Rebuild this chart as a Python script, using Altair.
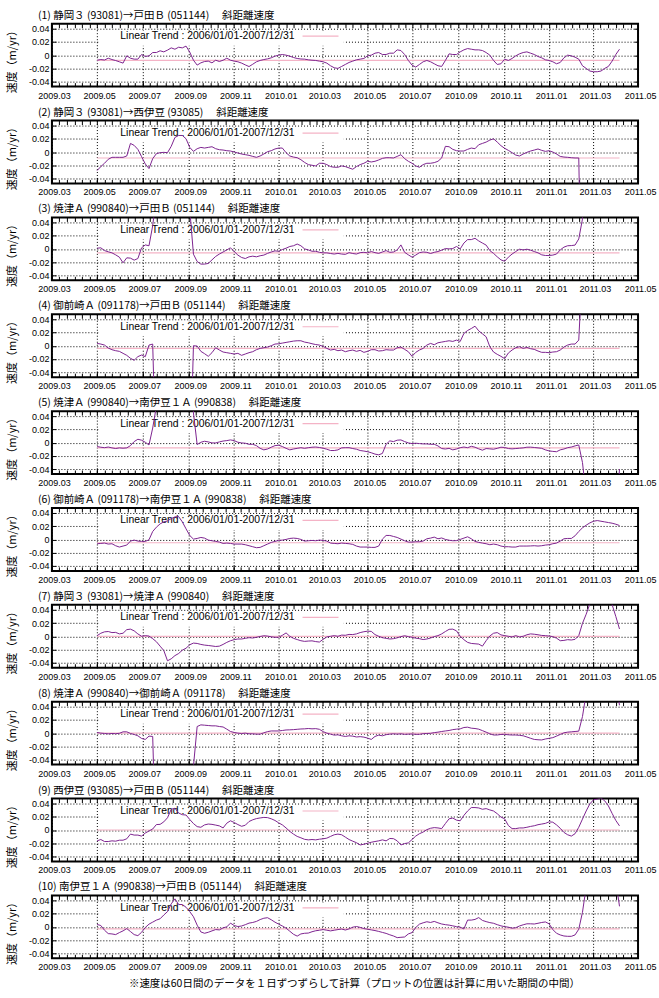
import altair as alt
import pandas as pd

# ---- data -----------------------------------------------------------------
START = pd.Timestamp("2009-05-01")
# sample days counted from START (5-day steps up to 2011-04-05)
DAY_OFFSETS = list(range(0, 706, 5))

TITLES = [
    "(1)  静岡３ (93081)→戸田Ｂ (051144)　 斜距離速度",
    "(2)  静岡３ (93081)→西伊豆 (93085)　 斜距離速度",
    "(3)  焼津Ａ (990840)→戸田Ｂ (051144)　 斜距離速度",
    "(4)  御前崎Ａ (091178)→戸田Ｂ (051144)　 斜距離速度",
    "(5)  焼津Ａ (990840)→南伊豆１Ａ (990838)　 斜距離速度",
    "(6)  御前崎Ａ (091178)→南伊豆１Ａ (990838)　 斜距離速度",
    "(7)  静岡３ (93081)→焼津Ａ (990840)　 斜距離速度",
    "(8)  焼津Ａ (990840)→御前崎Ａ (091178)　 斜距離速度",
    "(9)  西伊豆 (93085)→戸田Ｂ (051144)　 斜距離速度",
    "(10)  南伊豆１Ａ (990838)→戸田Ｂ (051144)　 斜距離速度",
]

# linear trend 2006/01/01-2007/12/31 (m/yr)
TRENDS = [-0.008, -0.009, -0.006, -0.004, -0.008, -0.005, 0.000, 0.000, 0.000, -0.003]

# baseline-length rates (m/yr); values far outside +-0.0475 run off the panel
V1 = [-0.0076, -0.0066, -0.0073, -0.0046, -0.0066, -0.0081, -0.0100, -0.0120, -0.0010, -0.0046,
      -0.0060, -0.0060, 0.0010, -0.0020, -0.0010, 0.0040, 0.0040, 0.0066, 0.0050, 0.0076,
      0.0110, 0.0090, 0.0120, 0.0110, 0.0137, 0.0046, -0.0076, -0.0150, -0.0116, -0.0096,
      -0.0090, -0.0116, -0.0076, -0.0096, -0.0076, -0.0046, -0.0076, -0.0090, -0.0100, -0.0120,
      -0.0147, -0.0172, -0.0137, -0.0100, -0.0080, -0.0066, -0.0056, -0.0040, -0.0015, 0.0000,
      0.0010, 0.0000, -0.0015, -0.0035, -0.0050, -0.0058, -0.0060, -0.0070, -0.0076, -0.0080,
      -0.0090, -0.0100, -0.0120, -0.0160, -0.0190, -0.0200, -0.0170, -0.0140, -0.0110, -0.0090,
      -0.0070, -0.0060, -0.0050, -0.0010, 0.0000, 0.0030, 0.0040, 0.0010, 0.0010, 0.0030,
      0.0030, 0.0080, 0.0070, 0.0010, -0.0080, -0.0150, -0.0180, -0.0140, -0.0100, -0.0080,
      -0.0100, -0.0130, -0.0160, -0.0170, -0.0080, 0.0020, 0.0010, 0.0010, 0.0050, 0.0080,
      0.0100, 0.0090, 0.0080, 0.0080, 0.0070, 0.0040, 0.0000, -0.0080, -0.0140, -0.0130,
      -0.0060, -0.0080, -0.0050, -0.0010, 0.0020, 0.0040, 0.0050, 0.0030, 0.0010, -0.0020,
      -0.0040, -0.0070, -0.0080, -0.0100, -0.0130, -0.0110, -0.0040, 0.0000, -0.0010, -0.0030,
      -0.0060, -0.0160, -0.0200, -0.0240, -0.0250, -0.0250, -0.0240, -0.0200, -0.0170, -0.0090,
      0.0010, 0.0090]
V2 = [-0.0280, -0.0220, -0.0170, -0.0110, -0.0080, -0.0080, -0.0080, -0.0080, -0.0060, 0.0130,
      0.0100, 0.0040, -0.0070, -0.0180, -0.0250, -0.0100, -0.0025, -0.0010, -0.0005, -0.0010,
      0.0086, 0.0220, 0.0250, 0.0250, 0.0200, 0.0070, 0.0010, 0.0050, 0.0070, 0.0060,
      0.0070, 0.0080, 0.0050, 0.0035, 0.0030, 0.0020, 0.0015, 0.0000, -0.0015, -0.0030,
      -0.0040, -0.0050, -0.0066, -0.0080, -0.0060, -0.0030, 0.0005, 0.0020, 0.0046, 0.0060,
      0.0060, -0.0010, -0.0060, -0.0076, -0.0086, -0.0116, -0.0157, -0.0190, -0.0200, -0.0210,
      -0.0170, -0.0170, -0.0190, -0.0220, -0.0230, -0.0230, -0.0210, -0.0220, -0.0240, -0.0260,
      -0.0220, -0.0190, -0.0170, -0.0140, -0.0150, -0.0140, -0.0120, -0.0096, -0.0086, -0.0086,
      -0.0090, -0.0066, -0.0040, -0.0100, -0.0140, -0.0170, -0.0210, -0.0230, -0.0190, -0.0170,
      -0.0170, -0.0160, -0.0140, -0.0090, 0.0086, 0.0080, 0.0040, 0.0020, 0.0015, 0.0015,
      0.0040, 0.0060, 0.0050, 0.0110, 0.0130, 0.0150, 0.0180, 0.0200, 0.0150, 0.0096,
      0.0056, 0.0025, -0.0010, -0.0046, -0.0060, -0.0030, -0.0005, 0.0015, 0.0030, 0.0046,
      0.0025, 0.0010, 0.0020, 0.0000, -0.0030, -0.0066, -0.0076, -0.0080, -0.0086, -0.0090,
      -0.0090, -0.3000, -0.3000, -0.3000, -0.3000, -0.3000, -0.3000, -0.3000, -0.3000, -0.3000,
      -0.3000, -0.3000]
V3 = [0.0010, 0.0016, -0.0026, -0.0044, -0.0060, -0.0090, -0.0125, -0.0210, -0.0135, -0.0140,
      -0.0170, -0.0146, 0.0016, 0.0060, 0.0047, 0.0350, 0.0800, 0.2000, 0.2000, 0.2000,
      0.2000, 0.2000, 0.2000, 0.2000, 0.2000, 0.0600, -0.0080, -0.0190, -0.0230, -0.0230,
      -0.0220, -0.0166, -0.0114, -0.0078, -0.0047, -0.0016, 0.0016, -0.0040, -0.0094, -0.0130,
      -0.0146, -0.0120, -0.0110, -0.0120, -0.0104, -0.0094, -0.0068, -0.0047, -0.0030, -0.0036,
      -0.0010, 0.0010, 0.0036, 0.0047, 0.0073, 0.0047, 0.0000, -0.0016, -0.0036, -0.0036,
      -0.0052, -0.0060, -0.0060, -0.0070, -0.0078, -0.0068, -0.0078, -0.0083, -0.0057, -0.0070,
      -0.0078, -0.0057, -0.0052, -0.0060, -0.0040, -0.0057, -0.0068, -0.0047, -0.0026, -0.0052,
      -0.0047, -0.0016, 0.0060, -0.0052, -0.0090, -0.0125, -0.0094, -0.0057, -0.0047, -0.0052,
      -0.0070, -0.0052, -0.0040, -0.0020, 0.0005, 0.0000, 0.0005, 0.0036, 0.0000, 0.0088,
      0.0140, 0.0140, 0.0160, 0.0120, 0.0088, 0.0057, -0.0026, -0.0068, -0.0120, -0.0166,
      -0.0187, -0.0125, -0.0078, -0.0040, -0.0005, -0.0016, -0.0005, -0.0020, -0.0040, -0.0060,
      -0.0090, -0.0100, -0.0100, -0.0094, -0.0078, -0.0016, 0.0026, 0.0047, 0.0050, 0.0057,
      0.0150, 0.0450, 0.2000, 0.2000, 0.2000, 0.2000, 0.2000, 0.2000, 0.2000, 0.2000,
      0.2000, 0.2000]
V4 = [0.0035, 0.0025, 0.0010, -0.0035, -0.0060, -0.0075, -0.0085, -0.0115, -0.0145, -0.0190,
      -0.0220, -0.0165, -0.0140, -0.0165, 0.0010, 0.0025, -0.2000, -0.2000, -0.2000, -0.2000,
      -0.2000, -0.2000, -0.2000, -0.2000, -0.2000, -0.2000, 0.0000, -0.0005, -0.0085, -0.0120,
      -0.0160, -0.0105, -0.0030, -0.0065, -0.0095, -0.0105, -0.0115, -0.0125, -0.0115, -0.0145,
      -0.0125, -0.0105, -0.0090, -0.0060, -0.0040, -0.0030, -0.0020, 0.0000, 0.0025, 0.0030,
      0.0040, 0.0050, 0.0060, 0.0070, 0.0075, 0.0075, 0.0055, 0.0045, 0.0030, 0.0018,
      0.0010, -0.0010, -0.0040, -0.0065, -0.0055, -0.0075, -0.0065, -0.0090, -0.0075, -0.0065,
      -0.0085, -0.0070, -0.0100, -0.0085, -0.0060, -0.0060, -0.0080, -0.0075, -0.0060, -0.0065,
      -0.0065, -0.0030, -0.0020, -0.0055, -0.0090, -0.0160, -0.0100, -0.0065, -0.0040, 0.0010,
      0.0035, 0.0015, 0.0045, 0.0055, 0.0065, 0.0075, 0.0065, 0.0085, 0.0065, 0.0185,
      0.0230, 0.0260, 0.0295, 0.0225, 0.0180, 0.0135, -0.0015, -0.0095, -0.0130, -0.0160,
      -0.0195, -0.0110, -0.0065, -0.0030, -0.0015, -0.0040, -0.0025, -0.0045, -0.0055, -0.0080,
      -0.0100, -0.0100, -0.0105, -0.0095, -0.0090, -0.0065, -0.0020, 0.0010, 0.0025, 0.0025,
      0.0085, 0.1200, 0.3000, 0.3000, 0.3000, 0.3000, 0.3000, 0.3000, 0.3000, 0.3000,
      0.3000, 0.3000]
V5 = [-0.0060, -0.0070, -0.0077, -0.0067, -0.0080, -0.0090, -0.0080, -0.0085, -0.0080, -0.0046,
      0.0015, 0.0050, 0.0036, 0.0005, -0.0036, 0.0220, 0.0550, 0.2000, 0.2000, 0.2000,
      0.2000, 0.2000, 0.2000, 0.2000, 0.2000, 0.2000, 0.0450, -0.0030, 0.0005, 0.0020,
      0.0010, -0.0005, -0.0005, 0.0010, 0.0023, 0.0030, 0.0040, 0.0030, 0.0005, -0.0005,
      -0.0010, -0.0026, -0.0026, -0.0046, -0.0087, -0.0110, -0.0097, -0.0070, -0.0046, -0.0040,
      -0.0060, -0.0087, -0.0110, -0.0097, -0.0087, -0.0077, -0.0087, -0.0077, -0.0070, -0.0067,
      -0.0074, -0.0085, -0.0100, -0.0120, -0.0120, -0.0110, -0.0080, -0.0077, -0.0077, -0.0090,
      -0.0100, -0.0120, -0.0128, -0.0138, -0.0154, -0.0174, -0.0185, -0.0164, -0.0026, 0.0026,
      0.0015, 0.0036, 0.0040, 0.0015, -0.0005, -0.0015, -0.0010, -0.0015, -0.0020, -0.0020,
      -0.0026, -0.0026, -0.0050, -0.0090, -0.0097, -0.0087, -0.0110, -0.0097, -0.0077, -0.0067,
      -0.0077, -0.0056, -0.0070, -0.0095, -0.0115, -0.0090, -0.0095, -0.0100, -0.0087, -0.0070,
      -0.0074, -0.0090, -0.0095, -0.0090, -0.0085, -0.0080, -0.0070, -0.0069, -0.0074, -0.0080,
      -0.0087, -0.0110, -0.0126, -0.0133, -0.0138, -0.0110, -0.0097, -0.0077, -0.0067, -0.0050,
      -0.0036, -0.0300, -0.0800, -0.2000, -0.2000, -0.2000, -0.2000, -0.2000, -0.2000, -0.2000,
      -0.1200, -0.0400]
V6 = [-0.0065, -0.0060, -0.0055, -0.0070, -0.0065, -0.0095, -0.0115, -0.0100, -0.0085, -0.0025,
      -0.0010, -0.0025, -0.0030, -0.0030, -0.0005, 0.0120, 0.0185, 0.0235, 0.0265, 0.0280,
      0.0315, 0.0340, 0.0345, 0.0265, 0.0160, 0.0060, 0.0005, 0.0015, 0.0030, 0.0020,
      -0.0010, -0.0020, -0.0030, -0.0040, -0.0060, -0.0055, -0.0060, -0.0070, -0.0070, -0.0070,
      -0.0080, -0.0095, -0.0110, -0.0125, -0.0120, -0.0095, -0.0070, -0.0045, -0.0030, -0.0015,
      -0.0010, 0.0000, 0.0015, 0.0020, 0.0015, 0.0000, -0.0025, -0.0020, -0.0015, -0.0020,
      -0.0010, -0.0015, -0.0025, -0.0055, -0.0060, -0.0065, -0.0055, -0.0060, -0.0065, -0.0075,
      -0.0100, -0.0115, -0.0115, -0.0115, -0.0120, -0.0120, -0.0100, 0.0005, 0.0060, 0.0060,
      0.0045, 0.0030, 0.0005, -0.0020, -0.0040, -0.0040, -0.0035, -0.0035, -0.0025, 0.0010,
      0.0020, 0.0035, 0.0010, 0.0022, 0.0000, -0.0012, -0.0020, -0.0018, 0.0000, 0.0020,
      0.0040, 0.0010, -0.0030, -0.0045, -0.0055, -0.0065, -0.0080, -0.0070, -0.0080, -0.0100,
      -0.0110, -0.0110, -0.0115, -0.0115, -0.0100, -0.0100, -0.0100, -0.0098, -0.0095, -0.0100,
      -0.0095, -0.0085, -0.0080, -0.0065, -0.0055, -0.0025, 0.0010, 0.0015, 0.0015, 0.0055,
      0.0120, 0.0175, 0.0215, 0.0250, 0.0275, 0.0285, 0.0275, 0.0265, 0.0255, 0.0245,
      0.0230, 0.0210]
V7 = [0.0010, 0.0046, 0.0067, 0.0072, 0.0056, 0.0059, 0.0036, 0.0046, 0.0100, 0.0108,
      0.0082, 0.0036, 0.0000, 0.0010, 0.0003, -0.0036, -0.0082, -0.0149, -0.0215, -0.0370,
      -0.0340, -0.0292, -0.0260, -0.0210, -0.0180, -0.0128, -0.0103, -0.0108, -0.0123, -0.0133,
      -0.0139, -0.0146, -0.0154, -0.0149, -0.0123, -0.0092, -0.0067, -0.0051, -0.0041, -0.0041,
      -0.0031, -0.0021, -0.0026, -0.0015, -0.0003, 0.0008, 0.0003, -0.0008, -0.0015, -0.0015,
      0.0015, 0.0051, 0.0000, -0.0031, -0.0049, -0.0067, -0.0077, -0.0072, -0.0069, -0.0080,
      -0.0087, -0.0046, -0.0010, 0.0000, 0.0010, 0.0000, 0.0018, 0.0015, 0.0028, 0.0026,
      0.0036, 0.0056, 0.0069, 0.0077, 0.0074, 0.0026, 0.0000, -0.0021, -0.0031, -0.0041,
      -0.0036, -0.0023, -0.0005, 0.0008, -0.0005, -0.0015, -0.0028, -0.0036, -0.0049, -0.0041,
      -0.0026, -0.0005, 0.0010, 0.0036, 0.0072, 0.0105, 0.0108, 0.0082, 0.0000, -0.0051,
      -0.0092, -0.0108, -0.0113, -0.0118, -0.0149, -0.0067, 0.0005, 0.0046, 0.0056, 0.0021,
      0.0010, 0.0000, -0.0010, 0.0010, -0.0010, 0.0000, 0.0023, 0.0036, 0.0031, 0.0023,
      0.0013, 0.0010, 0.0003, -0.0005, -0.0028, -0.0067, -0.0062, -0.0051, -0.0056, -0.0046,
      0.0010, 0.0195, 0.0333, 0.0490, 0.0800, 0.1000, 0.1000, 0.0900, 0.0700, 0.0480,
      0.0300, 0.0110]
V8 = [0.0010, 0.0000, -0.0005, -0.0010, -0.0005, -0.0008, -0.0003, 0.0020, 0.0020, -0.0005,
      -0.0020, -0.0040, -0.0080, -0.0095, -0.0045, -0.0050, -0.2000, -0.2000, -0.2000, -0.2000,
      -0.2000, -0.2000, -0.2000, -0.2000, -0.2000, -0.2000, -0.0500, 0.0100, 0.0125, 0.0120,
      0.0115, 0.0110, 0.0110, 0.0100, 0.0093, 0.0060, 0.0025, 0.0010, 0.0000, -0.0005,
      0.0000, -0.0010, -0.0010, -0.0015, -0.0015, 0.0005, 0.0023, 0.0033, 0.0033, 0.0033,
      0.0040, 0.0048, 0.0050, 0.0053, 0.0058, 0.0063, 0.0065, 0.0070, 0.0065, 0.0068,
      0.0058, 0.0023, 0.0000, -0.0015, -0.0030, -0.0025, -0.0040, -0.0050, -0.0040, -0.0045,
      -0.0058, -0.0053, -0.0060, -0.0075, -0.0095, -0.0050, -0.0030, -0.0040, -0.0023, -0.0015,
      -0.0010, -0.0015, -0.0010, -0.0018, -0.0015, -0.0013, -0.0018, -0.0018, -0.0008, -0.0005,
      -0.0003, 0.0008, 0.0015, 0.0025, 0.0033, 0.0040, 0.0053, 0.0060, 0.0065, 0.0085,
      0.0090, 0.0075, 0.0070, 0.0060, 0.0038, 0.0015, -0.0010, -0.0028, -0.0028, -0.0020,
      -0.0018, -0.0025, -0.0028, -0.0028, -0.0033, -0.0040, -0.0058, -0.0078, -0.0095, -0.0100,
      -0.0103, -0.0088, -0.0078, -0.0068, -0.0045, -0.0020, 0.0005, 0.0015, 0.0020, 0.0025,
      0.0030, 0.0250, 0.0600, 0.1500, 0.1500, 0.1500, 0.1500, 0.1500, 0.1500, 0.1500,
      0.0800, 0.0420]
V9 = [-0.0164, -0.0144, -0.0174, -0.0174, -0.0164, -0.0169, -0.0154, -0.0154, -0.0133, -0.0062,
      -0.0077, -0.0077, -0.0092, -0.0046, -0.0015, 0.0015, 0.0082, 0.0085, 0.0123, 0.0185,
      0.0313, 0.0328, 0.0256, 0.0231, 0.0226, 0.0159, 0.0097, 0.0051, 0.0041, 0.0077,
      0.0090, 0.0085, 0.0074, 0.0062, 0.0031, 0.0103, 0.0139, 0.0113, 0.0082, 0.0056,
      0.0072, 0.0128, 0.0154, 0.0172, 0.0182, 0.0190, 0.0187, 0.0169, 0.0144, 0.0108,
      0.0077, 0.0031, -0.0021, -0.0062, -0.0097, -0.0118, -0.0141, -0.0149, -0.0144, -0.0149,
      -0.0139, -0.0133, -0.0123, -0.0097, -0.0072, -0.0062, -0.0072, -0.0108, -0.0144, -0.0169,
      -0.0192, -0.0226, -0.0215, -0.0200, -0.0185, -0.0174, -0.0164, -0.0149, -0.0164, -0.0128,
      -0.0131, -0.0164, -0.0226, -0.0205, -0.0195, -0.0144, -0.0092, -0.0056, -0.0031, 0.0005,
      0.0026, 0.0036, 0.0031, 0.0021, 0.0097, 0.0169, 0.0180, 0.0149, 0.0139, 0.0221,
      0.0287, 0.0339, 0.0339, 0.0333, 0.0313, 0.0323, 0.0303, 0.0287, 0.0246, 0.0195,
      0.0169, 0.0067, 0.0021, 0.0021, 0.0031, 0.0031, 0.0041, 0.0054, 0.0064, 0.0080,
      0.0090, 0.0100, 0.0123, 0.0118, 0.0077, 0.0026, -0.0036, -0.0072, -0.0092, -0.0056,
      0.0041, 0.0164, 0.0287, 0.0395, 0.0457, 0.0467, 0.0482, 0.0441, 0.0364, 0.0251,
      0.0144, 0.0062]
V10 = [0.0036, 0.0020, -0.0051, -0.0102, -0.0107, -0.0117, -0.0087, -0.0061, -0.0026, -0.0071,
       -0.0117, -0.0133, -0.0082, -0.0010, 0.0041, 0.0071, 0.0102, 0.0122, 0.0179, 0.0230,
       0.0347, 0.0423, 0.0337, 0.0337, 0.0296, 0.0230, 0.0153, 0.0026, -0.0077, -0.0097,
       -0.0082, -0.0061, -0.0041, -0.0046, -0.0015, 0.0000, 0.0056, 0.0020, 0.0005, 0.0013,
       0.0033, 0.0056, 0.0066, 0.0082, 0.0110, 0.0130, 0.0138, 0.0107, 0.0071, 0.0041,
       0.0013, -0.0020, -0.0066, -0.0112, -0.0140, -0.0107, -0.0097, -0.0094, -0.0074, -0.0059,
       -0.0051, -0.0041, -0.0051, -0.0061, -0.0051, -0.0041, -0.0033, -0.0048, -0.0031, -0.0005,
       0.0005, -0.0008, -0.0026, -0.0036, -0.0046, -0.0056, -0.0069, -0.0084, -0.0099, -0.0120,
       -0.0138, -0.0163, -0.0158, -0.0153, -0.0107, -0.0087, -0.0010, 0.0041, 0.0061, 0.0077,
       0.0066, 0.0082, 0.0061, 0.0043, 0.0033, 0.0026, 0.0015, 0.0003, -0.0005, -0.0031,
       0.0102, 0.0102, 0.0112, 0.0140, 0.0097, 0.0079, 0.0064, 0.0054, 0.0033, 0.0015,
       0.0003, -0.0005, -0.0020, -0.0013, 0.0013, 0.0031, 0.0046, 0.0046, 0.0043, 0.0054,
       0.0066, 0.0074, 0.0046, -0.0041, -0.0097, -0.0122, -0.0138, -0.0143, -0.0143, -0.0122,
       -0.0036, 0.0219, 0.0600, 0.1500, 0.1500, 0.1500, 0.1500, 0.1500, 0.1500, 0.1500,
       0.0700, 0.0310]

SERIES = [V1, V2, V3, V4, V5, V6, V7, V8, V9, V10]
for _s in SERIES:
    if len(_s) != len(DAY_OFFSETS):
        raise ValueError("series length %d != %d" % (len(_s), len(DAY_OFFSETS)))

LEGEND_LABEL = "Linear Trend : 2006/01/01-2007/12/31"
FOOTNOTE = "※速度は60日間のデータを１日ずつずらして計算（プロットの位置は計算に用いた期間の中間）"
Y_TITLE = "速度（m/yr）"

# ---- styling --------------------------------------------------------------
PURPLE = "#7d2490"
PINK = "#f4b3c6"
JP_FONT = "Noto Sans CJK JP"
NUM_FONT = "Liberation Sans"
W, H = 587, 63
Y_DOMAIN = [-0.0475, 0.0475]
Y_TICKS = [-0.04, -0.02, 0, 0.02, 0.04]

X_DOMAIN = [alt.DateTime(year=2009, month=3, date=1), alt.DateTime(year=2011, month=5, date=1)]
MAJOR_MONTHS = [(2009, 3), (2009, 5), (2009, 7), (2009, 9), (2009, 11), (2010, 1), (2010, 3),
                (2010, 5), (2010, 7), (2010, 9), (2010, 11), (2011, 1), (2011, 3), (2011, 5)]
MAJOR_TICKS = [alt.DateTime(year=y, month=m, date=1) for y, m in MAJOR_MONTHS]
MINOR_TICKS = []
for yr in (2009, 2010, 2011):
    for mo in range(1, 13):
        if (yr, mo) < (2009, 3) or (yr, mo) > (2011, 4):
            continue
        for dd in (1, 11, 21):
            MINOR_TICKS.append(alt.DateTime(year=yr, month=mo, date=dd))
MINOR_TICKS.append(alt.DateTime(year=2011, month=5, date=1))

dates = [(START + pd.Timedelta(days=d)).strftime("%Y-%m-%dT00:00:00") for d in DAY_OFFSETS]

# white key box behind the legend (data coordinates)
BOX = pd.DataFrame({"x0": ["2009-05-03T00:00:00"], "x1": ["2010-03-30T00:00:00"],
                    "y0": [0.0143], "y1": [0.0369]})

x_scale = alt.Scale(domain=X_DOMAIN)
y_scale = alt.Scale(domain=Y_DOMAIN, nice=False, zero=False)

x_main_axis = alt.Axis(orient="bottom", values=MAJOR_TICKS, format="%Y.%m", formatType="time",
                       labelFont=NUM_FONT, labelFontSize=9, labelColor="black", labelPadding=4.5,
                       labelFlush=False, labelOverlap=False, labelOffset=2,
                       tickSize=6, offset=-6, tickColor="black", domain=False,
                       grid=True, gridDash=[1, 2], gridColor="black", gridOpacity=1, gridWidth=1,
                       title=None)
x_bottom_minor = alt.Axis(orient="bottom", values=MINOR_TICKS, labels=False, tickSize=4, offset=-4,
                          tickColor="black", domain=False, grid=False, title=None)
x_top_minor = alt.Axis(orient="top", values=MINOR_TICKS, labels=False, tickSize=4, offset=-4,
                       tickColor="black", domain=False, grid=False, title=None)
y_main_axis = alt.Axis(orient="left", values=Y_TICKS,
                       labelExpr="datum.value == 0 ? '0' : (datum.value < 0 ? '-' : '') + format(abs(datum.value), '.2f')",
                       labelFont=NUM_FONT, labelFontSize=9, labelColor="black", labelPadding=3,
                       tickSize=4, offset=-4, tickColor="black", domain=False,
                       grid=True, gridDash=[1, 2], gridColor="black", gridOpacity=1, gridWidth=1,
                       title=Y_TITLE, titleFont=JP_FONT, titleFontSize=11, titleFontWeight="normal",
                       titleColor="black", titleAngle=270, titleX=-43, titleY=35,
                       titleAlign="center", titleBaseline="middle")
y_right_axis = alt.Axis(orient="right", values=Y_TICKS, labels=False, tickSize=4, offset=-4,
                        tickColor="black", domain=False, grid=False, title=None)


def panel(k):
    df = pd.DataFrame({"date": dates, "v": SERIES[k]})
    trend_df = pd.DataFrame({"start": [dates[0]], "end": [dates[-1]], "v": [TRENDS[k]]})

    box = alt.Chart(BOX).mark_rect(color="white").encode(
        x=alt.X("x0:T", scale=x_scale, axis=x_top_minor),
        x2="x1:T",
        y=alt.Y("y0:Q", scale=y_scale, axis=None),
        y2="y1:Q",
    )
    trend = alt.Chart(trend_df).mark_rule(color=PINK, strokeWidth=1.2).encode(
        x=alt.X("start:T", scale=x_scale, axis=x_main_axis),
        x2="end:T",
        y=alt.Y("v:Q", scale=y_scale, axis=y_main_axis),
    )
    key_text = alt.Chart(trend_df).mark_text(
        text=LEGEND_LABEL, align="right", baseline="middle",
        font=NUM_FONT, fontSize=10.4, color="black",
    ).encode(x=alt.value(243), y=alt.value(12.5))
    key_line = alt.Chart(trend_df).mark_rule(color=PINK, strokeWidth=1.2).encode(
        x=alt.value(251), x2=alt.value(287), y=alt.value(12.5)
    )
    line = alt.Chart(df).mark_line(color=PURPLE, strokeWidth=1, clip=True).encode(
        x=alt.X("date:T", scale=x_scale, axis=x_bottom_minor),
        y=alt.Y("v:Q", scale=y_scale, axis=y_right_axis),
    )
    return (
        alt.layer(box, trend, key_text, key_line, line)
        .resolve_axis(x="independent", y="independent")
        .properties(
            width=W, height=H,
            title=alt.TitleParams(TITLES[k], anchor="start", dx=-14, offset=-6,
                                  baseline="alphabetic", font=JP_FONT, fontSize=10.5,
                                  fontWeight="normal", color="black", frame="group"),
        )
    )


chart = (
    alt.vconcat(*[panel(k) for k in range(10)], spacing=34, bounds="flush")
    .properties(
        title=alt.TitleParams(FOOTNOTE, orient="bottom", anchor="middle", font=JP_FONT,
                              fontSize=10.5, fontWeight="normal", color="black", offset=6, dx=23),
        padding={"left": 6, "top": 9, "right": 2, "bottom": 4},
        background="white",
    )
    .configure_view(stroke="black", strokeWidth=2)
)

chart.save("out.html", embed_options={"renderer": "svg", "actions": False})
